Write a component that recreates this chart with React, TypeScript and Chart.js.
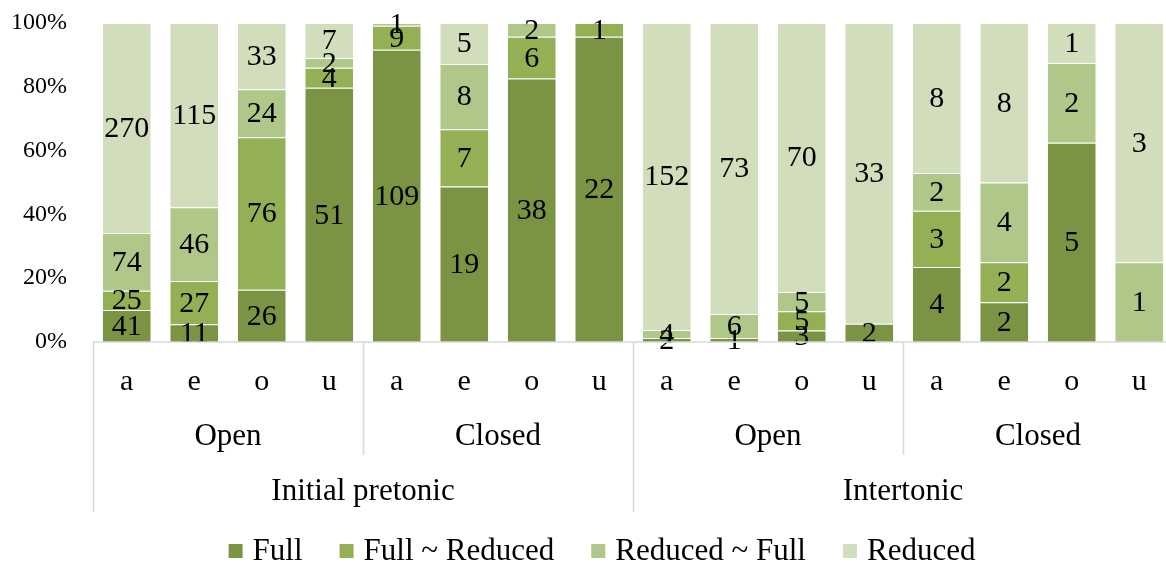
import { useEffect, useRef } from "react";
import { Chart, registerables } from "chart.js";

Chart.register(...registerables);

const categories = ["a", "e", "o", "u", "a", "e", "o", "u", "a", "e", "o", "u", "a", "e", "o", "u"];
const syllableGroups = ["Open", "Closed", "Open", "Closed"];
const positionGroups = ["Initial pretonic", "Intertonic"];
const seriesNames = ["Full", "Full ~ Reduced", "Reduced ~ Full", "Reduced"];
const seriesColors = ["#7A9443", "#94B055", "#AFC789", "#D1DDBB"];

const fullCounts = [41, 11, 26, 51, 109, 19, 38, 22, 2, 1, 3, 2, 4, 2, 5, 0];
const fullReducedCounts = [25, 27, 76, 4, 9, 7, 6, 1, 0, 0, 5, 0, 3, 2, 0, 0];
const reducedFullCounts = [74, 46, 24, 2, 1, 8, 2, 0, 4, 6, 5, 0, 2, 4, 2, 1];
const reducedCounts = [270, 115, 33, 7, 0, 5, 0, 0, 152, 73, 70, 33, 8, 8, 1, 3];

const yTickValues = [0, 20, 40, 60, 80, 100];

const allCounts = [fullCounts, fullReducedCounts, reducedFullCounts, reducedCounts];
const totals = categories.map((_, i) => allCounts.reduce((s, arr) => s + arr[i], 0));

const FONT = '"Liberation Serif", "Times New Roman", Times, serif';

const overlayPlugin = {
  id: "overlay",
  afterDatasetsDraw(chart: any) {
    const ctx = chart.ctx as CanvasRenderingContext2D;
    ctx.save();
    ctx.font = `30px ${FONT}`;
    ctx.fillStyle = "#000";
    ctx.textAlign = "center";
    ctx.textBaseline = "middle";
    chart.data.datasets.forEach((_: any, di: number) => {
      const meta = chart.getDatasetMeta(di);
      meta.data.forEach((el: any, i: number) => {
        const c = allCounts[di][i];
        if (!c) return;
        const p = el.getProps(["x", "y", "base"], true);
        ctx.fillText(String(c), p.x, (p.y + p.base) / 2 + 1);
      });
    });
    ctx.restore();
  },
  afterDraw(chart: any) {
    const ctx = chart.ctx as CanvasRenderingContext2D;
    const area = chart.chartArea;
    const xs = chart.scales.x;
    const n = categories.length;
    const slot = (area.right - area.left) / n;
    const edge = (k: number) => area.left + k * slot;
    ctx.save();
    // axis line
    ctx.strokeStyle = "#D9D9D9";
    ctx.lineWidth = 1.5;
    ctx.beginPath();
    ctx.moveTo(area.left, area.bottom);
    ctx.lineTo(area.right, area.bottom);
    ctx.stroke();
    // separators
    for (let k = 0; k <= n; k += 4) {
      const x = Math.round(edge(k)) + 0.5;
      const long = k % 8 === 0;
      ctx.beginPath();
      ctx.moveTo(x, area.bottom);
      ctx.lineTo(x, long ? 512 : 455);
      ctx.stroke();
    }
    ctx.fillStyle = "#000";
    ctx.textAlign = "center";
    ctx.textBaseline = "middle";
    ctx.font = `30px ${FONT}`;
    categories.forEach((c, i) => {
      ctx.fillText(c, xs.getPixelForValue(i), 382);
    });
    ctx.font = `31px ${FONT}`;
    syllableGroups.forEach((g, j) => {
      ctx.fillText(g, (edge(j * 4) + edge(j * 4 + 4)) / 2, 437);
    });
    positionGroups.forEach((g, j) => {
      ctx.fillText(g, (edge(j * 8) + edge(j * 8 + 8)) / 2, 492);
    });
    // legend
    ctx.font = `31px ${FONT}`;
    const box = 14;
    const gapText = 10;
    const gapItem = 37;
    const widths = seriesNames.map((s) => ctx.measureText(s).width);
    const total = widths.reduce((s, w) => s + box + gapText + w, 0) + gapItem * (seriesNames.length - 1);
    let x = 602 - total / 2;
    const ly = 551;
    ctx.textAlign = "left";
    seriesNames.forEach((s, i) => {
      ctx.fillStyle = seriesColors[i];
      ctx.fillRect(x, ly - box / 2, box, box);
      x += box + gapText;
      ctx.fillStyle = "#000";
      ctx.fillText(s, x, ly + 1);
      x += widths[i] + gapItem;
    });
    ctx.restore();
  },
};

export default function App() {
  const ref = useRef<HTMLCanvasElement | null>(null);
  useEffect(() => {
    if (!ref.current) return;
    const chart = new Chart(ref.current, {
      type: "bar",
      data: {
        labels: categories,
        datasets: allCounts.map((arr, di) => ({
          label: seriesNames[di],
          data: arr.map((v, i) => (v / totals[i]) * 100),
          backgroundColor: seriesColors[di],
          borderColor: "rgba(255,255,255,0.55)",
          borderWidth: { top: 1, right: 0, bottom: 0, left: 0 },
          borderSkipped: false,
          barPercentage: 0.71,
          categoryPercentage: 1,
        })),
      },
      options: {
        responsive: false,
        animation: false,
        layout: { padding: { top: 23, bottom: 223, left: 0, right: 0 } },
        plugins: { legend: { display: false }, tooltip: { enabled: false } },
        scales: {
          x: { stacked: true, display: false },
          y: {
            stacked: true,
            min: 0,
            max: 100,
            afterFit: (scale: any) => {
              scale.width = 93;
            },
            afterBuildTicks: (scale: any) => {
              scale.ticks = yTickValues.map((v) => ({ value: v }));
            },
            grid: { display: false, drawTicks: true, tickLength: 23 },
            border: { display: false },
            ticks: {
              padding: 3,
              color: "#000",
              font: { family: FONT, size: 24 },
              callback: (v: any) => `${v}%`,
            },
          },
        },
      },
      plugins: [overlayPlugin],
    });
    return () => chart.destroy();
  }, []);
  return (
    <div style={{ position: "fixed", left: 0, top: 0, width: 1166, height: 565, overflow: "hidden", background: "#fff" }}>
      <canvas ref={ref} width={1173} height={565} style={{ width: 1173, height: 565, display: "block" }} />
    </div>
  );
}
